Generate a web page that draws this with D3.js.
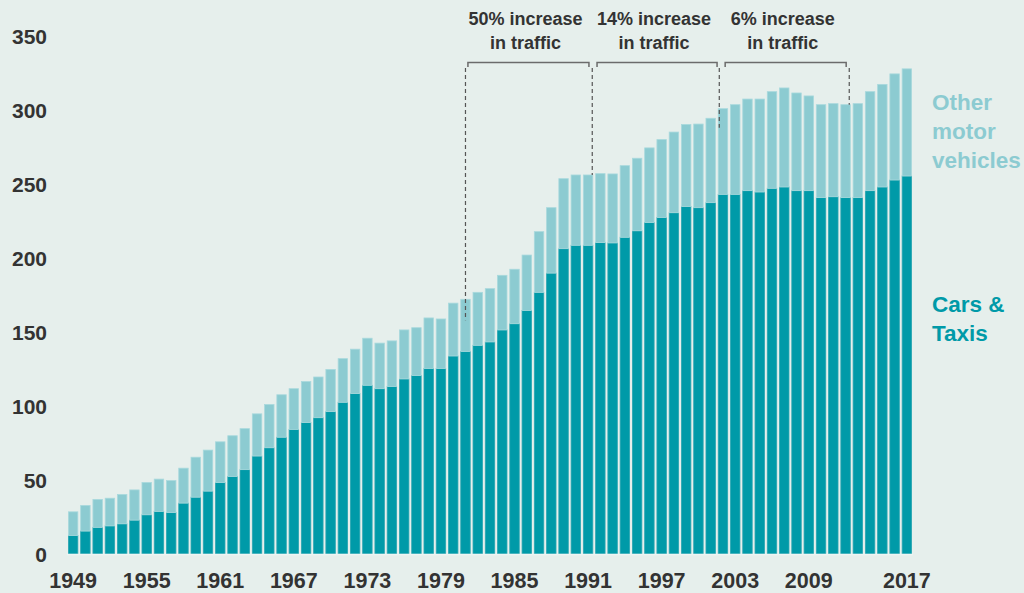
<!DOCTYPE html>
<html>
<head>
<meta charset="utf-8">
<script src="https://cdn.jsdelivr.net/npm/d3@7"></script>
<style>
  html, body { margin: 0; padding: 0; background: #e6efec; }
  svg { display: block; font-family: "Liberation Sans", Arial, sans-serif; font-weight: bold; }
</style>
</head>
<body>
<svg id="chart" width="1024" height="593"></svg>
<script>
// Road traffic by vehicle type, billion vehicle miles, 1949-2017
const years = d3.range(1949, 2018);

const carsTaxis = [
  12.5, 15.5, 18.0, 19.0, 20.4, 22.9, 26.5, 28.8, 28.0, 34.4,
  38.4, 42.5, 48.3, 52.4, 57.0, 66.2, 71.8, 78.9, 84.2, 88.8,
  92.1, 96.2, 102.5, 108.4, 114.0, 111.7, 113.2, 118.3, 120.6, 125.4,
  125.4, 133.8, 136.9, 141.0, 143.3, 151.4, 155.6, 164.6, 176.8, 189.8,
  206.3, 208.6, 208.6, 210.4, 210.2, 214.0, 218.4, 224.0, 227.4, 230.6,
  234.8, 234.0, 237.4, 243.0, 243.0, 245.5, 244.6, 247.1, 248.0, 245.5,
  245.5, 240.8, 241.4, 240.8, 240.8, 245.5, 248.0, 252.7, 255.4
];

const otherVehicles = [
  16.0, 17.3, 18.9, 18.7, 19.8, 20.4, 21.8, 21.8, 21.6, 23.6,
  27.0, 27.7, 27.5, 27.5, 27.7, 28.5, 29.2, 28.7, 27.5, 27.7,
  27.5, 28.5, 29.5, 30.0, 31.8, 30.8, 30.8, 33.1, 32.3, 34.1,
  33.4, 35.7, 35.2, 35.8, 36.0, 36.9, 36.8, 37.4, 41.0, 44.2,
  47.3, 47.5, 47.5, 46.6, 46.6, 48.4, 49.0, 50.4, 52.6, 54.5,
  55.4, 56.5, 57.0, 57.9, 60.6, 61.9, 62.8, 65.3, 66.9, 66.0,
  64.0, 62.8, 62.9, 62.8, 63.5, 66.9, 69.3, 71.7, 72.4
];

const yTicks = [0, 50, 100, 150, 200, 250, 300, 350];
const xTickYears = [1949, 1955, 1961, 1967, 1973, 1979, 1985, 1991, 1997, 2003, 2009, 2017];

// Bracketed periods: span in years, dashed guide lines with their lower ends
const periodLabels = [["50% increase", "in traffic"], ["14% increase", "in traffic"], ["6% increase", "in traffic"]];
const periodSpans = [[1981.2, 1991.07], [1991.73, 2001.52], [2002.18, 2012.05]];
const guideYears = [1981.0, 1991.34, 2001.7, 2012.3];
const guideEnds = [158, 256, 288, 303.5];

const colors = { cars: "#009aa8", other: "#8ccbd1", text: "#333333", bg: "#e6efec" };

const svg = d3.select("#chart");

const x = d3.scaleBand()
  .domain(years)
  .range([67, 913])
  .paddingInner(0.23)
  .paddingOuter(0.115);

const y = d3.scaleLinear().domain([0, 350]).range([554, 36]);

// Continuous year position (centre of a year's bar), used for annotations
const step = x.step();
const yearX = yr => x(1949) + x.bandwidth() / 2 + (yr - 1949) * step;

const rows = years.map((yr, i) => ({ year: yr, cars: carsTaxis[i], other: otherVehicles[i] }));
const stacked = d3.stack().keys(["cars", "other"])(rows);

// Bars
svg.append("g").selectAll("g")
  .data(stacked)
  .join("g")
  .attr("fill", d => colors[d.key])
  .attr("stroke", d => d.key === "other" ? "#a9d9dd" : "#2aa6b2")
  .attr("stroke-width", 0.8)
  .selectAll("rect")
  .data(d => d)
  .join("rect")
  .attr("x", d => x(d.data.year))
  .attr("width", x.bandwidth())
  .attr("y", d => y(d[1]))
  .attr("height", d => y(d[0]) - y(d[1]));

// Baseline
svg.append("line")
  .attr("x1", x.range()[0]).attr("x2", x.range()[1])
  .attr("y1", y(0) + 0.5).attr("y2", y(0) + 0.5)
  .attr("stroke", "#eef5f3").attr("stroke-width", 1.5);

// Y axis
const yAxis = svg.append("g")
  .attr("transform", "translate(47,0)")
  .call(d3.axisLeft(y).tickValues(yTicks).tickSize(0).tickPadding(0));
yAxis.select(".domain").remove();
yAxis.selectAll("text")
  .attr("fill", colors.text)
  .style("font-size", "21px")
  .style("font-family", "'Liberation Sans', Arial, sans-serif")
  .style("font-weight", "bold")
  .attr("dy", "0.36em");

// X axis
const xAxis = svg.append("g")
  .attr("transform", `translate(0,${y(0)})`)
  .call(d3.axisBottom(x).tickValues(xTickYears).tickSize(0).tickPadding(0));
xAxis.select(".domain").remove();
xAxis.selectAll("text")
  .attr("fill", colors.text)
  .attr("y", 34)
  .attr("dy", 0)
  .style("font-size", "21.5px")
  .style("font-family", "'Liberation Sans', Arial, sans-serif")
  .style("font-weight", "bold");

// Period brackets
const ann = svg.append("g");
periodSpans.forEach((span, i) => {
  const x0 = yearX(span[0]), x1 = yearX(span[1]);
  ann.append("path")
    .attr("d", `M${x0},67V62.5H${x1}V67`)
    .attr("fill", "none")
    .attr("stroke", "#6b6b6b")
    .attr("stroke-width", 1.5);
  const cx = (x0 + x1) / 2 - 3;
  periodLabels[i].forEach((line, j) => {
    ann.append("text")
      .attr("x", cx)
      .attr("y", 25 + j * 24)
      .attr("text-anchor", "middle")
      .attr("fill", colors.text)
      .style("font-size", "18px")
      .text(line);
  });
});

// Dashed guide lines
guideYears.forEach((yr, i) => {
  ann.append("line")
    .attr("x1", yearX(yr)).attr("x2", yearX(yr))
    .attr("y1", 68).attr("y2", y(guideEnds[i]))
    .attr("stroke", "#555")
    .attr("stroke-width", 1.2)
    .attr("stroke-dasharray", "4,3");
});

// Series labels
const legend = svg.append("g").style("font-size", "22.5px");
[["Other", 110], ["motor", 139], ["vehicles", 168]].forEach(([t, yy]) => {
  legend.append("text").attr("x", 932).attr("y", yy).attr("fill", colors.other).text(t);
});
[["Cars &", 312], ["Taxis", 341]].forEach(([t, yy]) => {
  legend.append("text").attr("x", 932).attr("y", yy).attr("fill", colors.cars).text(t);
});
</script>
</body>
</html>
